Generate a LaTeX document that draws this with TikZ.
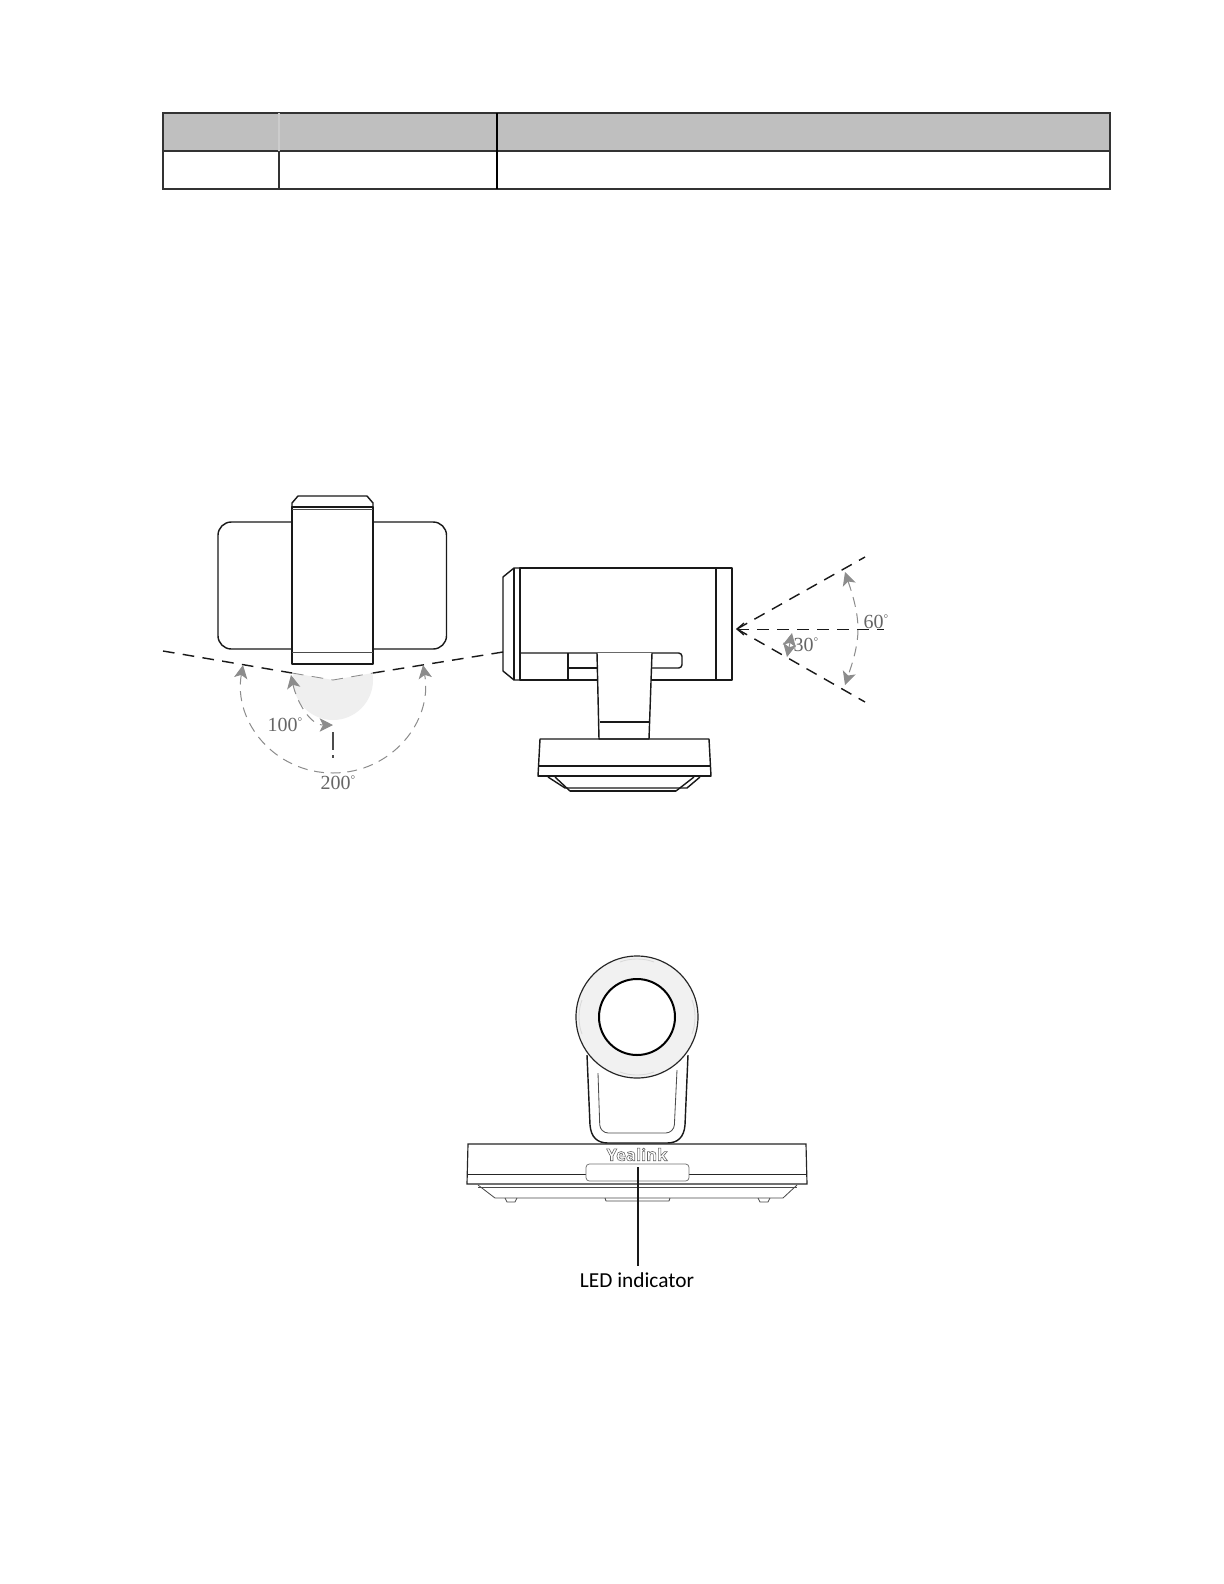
\documentclass[tikz,border=0pt]{standalone}
\usepackage{fontspec}
\setmainfont{Liberation Serif}
\newfontfamily\ledfont{Carlito}
\newfontfamily\logofont{Open Sans}
\usetikzlibrary{arrows.meta}
\definecolor{headgray}{HTML}{BFBFBF}
\definecolor{tabline}{HTML}{333333}
\definecolor{dimgray}{HTML}{8C8C8C}
\definecolor{softfill}{HTML}{EFEFEF}
\definecolor{ringfill}{HTML}{F1F1F1}
\tikzset{
  x=0.6pt,y=-0.6pt,
  tableline/.style={draw=tabline,line width=1pt},
  outline/.style={draw=black!90,line width=0.85pt,line join=round},
  thick outline/.style={draw=black!90,line width=1.3pt,line join=round},
  thin outline/.style={draw=black!70,line width=0.5pt,line join=round},
  axisdash/.style={draw=black!90,line width=0.85pt,dash pattern=on 7pt off 5pt},
  axisthin/.style={draw=black!45,line width=0.5pt,dash pattern=on 7pt off 5pt},
  dimarc/.style={draw=dimgray,line width=0.6pt,dash pattern=on 6pt off 4pt,{Stealth[length=8pt,width=8pt,inset=2pt,color=dimgray]}-{Stealth[length=8pt,width=8pt,inset=2pt,color=dimgray]}},
  dimlabel/.style={text=black!60,font=\fontsize{12}{13}\selectfont,inner sep=0pt},
}
\begin{document}
\begin{tikzpicture}
\path[fill=white] (0,0) rectangle (1224,1584);
\useasboundingbox (0,0) rectangle (1224,1584);
% table
\fill[headgray] (163,113) rectangle (1110,151);
\draw[tableline] (163,113) rectangle (1110,189);
\draw[tableline] (163,151) -- (1110,151);
\draw[black!20,line width=0.7pt] (279,113) -- (279,151);
\draw[tabline,line width=0.7pt] (279,151) -- (279,189);
\draw[black,line width=1.2pt] (497,113) -- (497,189);
% top view
\begin{scope}
\clip (292,673) -- (333,680) -- (373,673) -- (373,730) -- (292,730) -- cycle;
\fill[softfill] (333,680) circle [radius=40];
\end{scope}
\draw[outline,rounded corners=8pt] (218,522) rectangle (446.5,649);
\draw[outline,fill=white] (292,507) rectangle (373,664);
\draw[thick outline] (292,664) -- (373,664);
\draw[thin outline] (292,509) -- (373,509);
\draw[thin outline] (292,652) -- (373,652);
\draw[outline] (292,507) -- (292,503) -- (298,496) -- (367,496) -- (373,503) -- (373,507);
\coordinate (lt) at (163,651);
\coordinate (lm) at (292,673);
\coordinate (vtx) at (333,680);
\coordinate (rm) at (373,673);
\coordinate (rt) at (503,652);
\draw[axisdash] (lt) -- (lm);
\draw[axisdash] (rt) -- (rm);
\draw[axisthin] (lm) -- (vtx) -- (rm);
\draw[draw=black!70,line width=0.7pt,dash pattern=on 11pt off 3pt] (333,732) -- (333,758);
\draw[dimarc] (291,675) .. controls (296,699) and (309,725) .. (333,725);
\draw[dimarc] (243,665) .. controls (233,722) and (275,773) .. (333,773) .. controls (391,773) and (433,722) .. (423,665);
\node[dimlabel] (l100) at (285,725) {100\raisebox{3.5pt}{\scriptsize°}};
\node[dimlabel] (l200) at (338,783) {200\raisebox{3.5pt}{\scriptsize°}};
% side view
\draw[outline] (520,568) rectangle (732,680);
\draw[outline] (520,568) -- (514,568) -- (503,577) -- (503,671) -- (514,680) -- (520,680);
\draw[outline] (514,568) -- (514,680);
\draw[thick outline] (520,568) -- (520,680);
\draw[thick outline] (716,568) -- (716,680);
\draw[thick outline] (732,568) -- (732,680);
\draw[outline,rounded corners=2pt] (520,653) -- (682,653) -- (682,668) -- (652,668);
\draw[outline] (568,653) -- (568,680);
\draw[outline] (568,668) -- (598,668);
\draw[outline,fill=white] (597,653) -- (599,739) -- (649,739) -- (652,653);
\draw[outline] (600,722) -- (649,722);
\draw[outline] (540,739) -- (709,739) -- (711,776) -- (538,776) -- cycle;
\draw[outline] (538,766) -- (711,766);
\draw[thick outline] (538,776) -- (711,776);
\draw[outline] (548,777) -- (565,788) -- (687,788) -- (700,777);
\draw[thick outline] (570,791) -- (676,791);
\draw[outline] (555,777) -- (570,791);
\draw[outline] (694,777) -- (676,791);
\coordinate (apex) at (737,629);
\coordinate (fanup) at (865,557);
\coordinate (fandown) at (865,702);
\coordinate (fanmid) at (884,629);
\draw[axisdash] (apex) -- (fanup);
\draw[axisdash] (apex) -- (fandown);
\draw[axisdash,line width=0.6pt] (apex) -- (fanmid);
\draw[black!90,line width=0.75pt] (744,623) -- (737,629) -- (744,635);
\draw[dimarc] (845,572) .. controls (851,590) and (858,610) .. (858,629) .. controls (858,648) and (851,667) .. (845,685);
\draw[dimarc] (792,633) -- (787,657);
\node[dimlabel] (l60) at (876,622) {60\raisebox{3.5pt}{\scriptsize°}};
\node[dimlabel] (l30) at (806,645) {30\raisebox{3.5pt}{\scriptsize°}};
% front view
\draw[outline,fill=white] (587,1055) -- (590,1125) .. controls (591,1137) and (597,1143) .. (608,1143) -- (667,1143) .. controls (678,1143) and (684,1137) .. (685,1125) -- (688,1055);
\draw[thin outline,rounded corners=5pt] (598,1073) -- (600,1133) -- (674,1133) -- (677,1070);
\draw[draw=black!85,line width=0.7pt,fill=ringfill] (637,1017) circle [radius=61];
\draw[draw=black,line width=1.2pt,fill=white] (637,1017) circle [radius=38];
\draw[black!15,line width=0.5pt] (620,1072) .. controls (630,1076) and (644,1076) .. (654,1072);
\draw[black!15,line width=0.5pt] (620,962) .. controls (630,958) and (644,958) .. (654,962);
\draw[black!15,line width=0.5pt] (582,1000) .. controls (578,1010) and (578,1024) .. (582,1034);
\draw[black!15,line width=0.5pt] (692,1000) .. controls (696,1010) and (696,1024) .. (692,1034);
\draw[draw=black!85,line width=0.7pt] (468,1144) -- (806,1144) -- (807,1184) -- (467,1184) -- cycle;
\draw[thin outline] (478,1187) -- (797,1187);
\draw[draw=black!85,line width=0.6pt] (467,1174) -- (586,1174);
\draw[draw=black!85,line width=0.6pt] (689,1174) -- (807,1174);
\draw[thin outline] (478,1185) -- (495,1198) -- (783,1198) -- (797,1185);
\draw[thin outline] (505,1198) -- (507,1202) -- (515,1202) -- (517,1198);
\draw[thin outline] (758,1198) -- (760,1202) -- (768,1202) -- (770,1198);
\draw[thin outline] (605,1198) -- (606,1201) -- (669,1201) -- (670,1198);
\node[draw=black!55,line width=0.45pt,rounded corners=2pt,minimum width=61.8pt,minimum height=10.2pt,inner sep=0pt] (led) at (637.5,1172.5) {};
\node[inner sep=0pt,text=white,font=\logofont\bfseries\fontsize{10}{12}\selectfont] (logo) at (637,1154.5) {\special{pdf:literal direct 2 Tr 0.35 w 0.4 G}Yealink\special{pdf:literal direct 0 Tr 0 G}};
\node[inner sep=0pt,outer sep=4pt,text=black,font=\ledfont\fontsize{12.8}{14}\selectfont] (ledlabel) at (637,1280) {LED indicator};
\coordinate (ledstart) at (638,1167);
\draw[black!90,line width=0.75pt] (ledstart) -- (ledstart |- ledlabel.north);
\end{tikzpicture}
\end{document}
